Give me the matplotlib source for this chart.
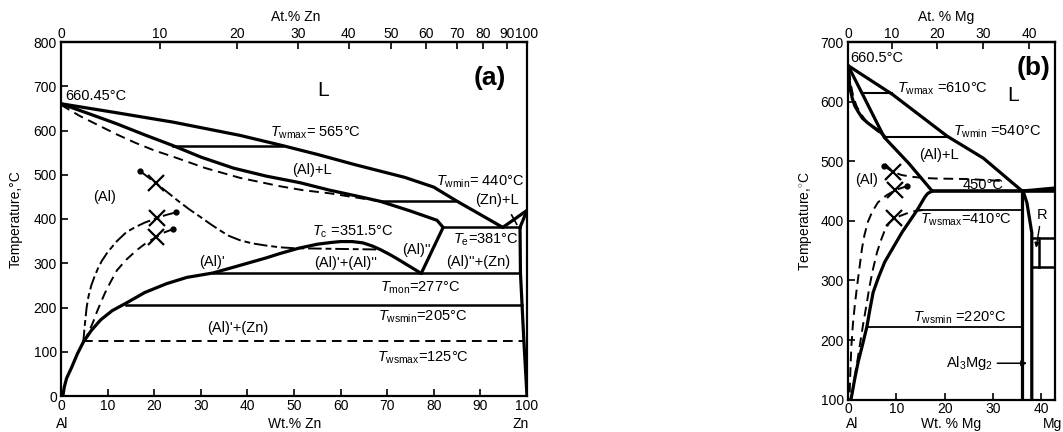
import numpy as np
import matplotlib.pyplot as plt

plt.rcParams['font.family'] = ['Liberation Sans', 'DejaVu Sans']
plt.rcParams['mathtext.fontset'] = 'custom'
plt.rcParams['mathtext.rm'] = 'Liberation Sans'
plt.rcParams['mathtext.it'] = 'Liberation Sans:italic'

# ---------- (a) Al-Zn ----------
azn_top_ticks = [0, 10, 20, 30, 40, 50, 60, 70, 80, 90, 100]
azn_bot_ticks = [0, 10, 20, 30, 40, 50, 60, 70, 80, 90, 100]
azn_y_ticks = [0, 100, 200, 300, 400, 500, 600, 700, 800]

zn_liq_w = [0, 12, 24, 38.4, 47.5, 55, 63, 73.8, 80, 85, 90, 94.8]
zn_liq_t = [660.45, 640, 619, 589, 566, 546, 523, 494, 472, 440, 410, 381]
zn_sol_w = [0, 6, 12, 18, 24, 30, 37, 44, 51.3, 57.7, 63, 68.5, 75, 80.7, 82]
zn_sol_t = [660.45, 638, 615, 590, 566, 540, 515, 497, 482, 465, 453, 440, 418, 397, 381]
zn_meta_w = [0, 4, 8, 12, 16, 20, 24, 31, 38.4, 47, 52, 57.7, 63, 68.5]
zn_meta_t = [658, 633, 612, 591, 572, 555, 541, 515, 493, 474, 465, 458, 449, 440]
zn_solv_w = [0.4, 0.7, 1.2, 2.3, 3.5, 4.8, 6.5, 8.5, 11, 14, 18, 22.7, 27, 32.6, 37, 41,
             44, 47, 51, 55, 58, 60, 62.5, 64.8, 66.8, 68.5, 70.5, 72, 74.5, 77.3]
zn_solv_t = [0, 20, 40, 65, 95, 122, 148, 172, 193, 210, 234, 254, 268, 278, 291, 303,
             312, 322, 334, 343, 347, 349, 349, 346, 339, 331, 320, 311, 295, 277]
zn_alpp_w = [82, 77.3]
zn_alpp_t = [381, 277]
zn_znliq_w = [94.8, 100]
zn_znliq_t = [381, 419.5]
zn_znsol_w = [100, 98.5]
zn_znsol_t = [419.5, 381]
zn_znsolv_w = [98.5, 98.6, 99.3, 100]
zn_znsolv_t = [381, 277, 130, 0]

# horizontal lines (wt from, wt to, T)
zn_twmax = (24, 47.5, 565)
zn_twmin = (68.5, 85, 440)
zn_te = (82, 98.5, 381)
zn_tmon = (32.6, 98.6, 277)
zn_twsmin = (14, 99.0, 205)
zn_twsmax = (4.8, 99.3, 124)

# experimental curves (first point = dot end)
zn_c1_w = [17, 20.4, 23, 25, 27.5, 30, 32, 34, 36, 38.4, 41, 44, 47, 50, 56, 62, 68.5]
zn_c1_t = [508, 481, 459, 442, 422, 404, 389, 375, 362, 352, 345, 340, 336, 334, 333, 332, 331]
zn_c2_w = [24.7, 22.5, 20.6, 18, 16, 14, 12, 10, 8.8, 8, 7.2, 6.5, 5.9, 5.5, 5.1, 4.8]
zn_c2_t = [415, 409, 402, 392, 382, 370, 350, 325, 306, 290, 270, 250, 225, 200, 160, 124]
zn_c3_w = [24, 22, 20.4, 18.3, 16.3, 14, 12, 10.5, 9.4, 8.5, 7.7, 7, 6.2, 5.5, 4.8]
zn_c3_t = [377, 369, 359, 346, 330, 308, 284, 255, 232, 210, 190, 170, 150, 135, 124]
zn_x_w = [20.4, 20.6, 20.4]
zn_x_t = [481, 402, 359]

# ---------- (b) Al-Mg ----------
bmg_top_ticks = [0, 10, 20, 30, 40]
bmg_bot_ticks = [0, 10, 20, 30, 40]
bmg_y_ticks = [100, 200, 300, 400, 500, 600, 700]

mg_liq_w = [0, 9.2, 20.5, 28, 36]
mg_liq_t = [660.5, 612, 542, 505, 450]
mg_sol_w = [0, 2.9, 7.5, 12.5, 17.4]
mg_sol_t = [660.5, 614, 540, 497, 450]
mg_curv_w = [0, 0.2, 0.4, 0.9, 1.4, 2.1, 3.0, 4.1, 5.3, 6.6, 7.6]
mg_curv_t = [660.5, 640, 623, 605, 593, 583, 572, 564, 557, 550, 541]
mg_meta_w = [0.2, 0.6, 1.1, 1.8, 2.6, 3.6, 4.8, 6.0, 7.2]
mg_meta_t = [652, 628, 608, 592, 580, 569, 559, 551, 544]
mg_solv_w = [17.4, 16.5, 15.9, 14.3, 12.8, 11.2, 9.4, 7.6, 6.3, 5.2, 4.5, 3.9, 3.0, 2.1, 1.4, 0.8, 0.6]
mg_solv_t = [450, 446, 440, 418, 400, 381, 356, 331, 305, 280, 250, 222, 192, 163, 135, 108, 100]
mg_mgliq_w = [36, 42.8]
mg_mgliq_t = [450, 455]
mg_phase_l_w = [36, 36]
mg_phase_l_t = [450, 100]
mg_phase_r_w = [36.2, 37.0, 37.6, 38.0, 38.0]
mg_phase_r_t = [450, 430, 400, 380, 100]

mg_twmax = (2.9, 9.2, 614)
mg_twmin = (7.5, 20.6, 540)
mg_te = (17.4, 42.8, 450)
mg_twsmax = (14.6, 36, 418)
mg_twsmin = (3.9, 36, 222)
mg_r_top = (38, 42.8, 371)
mg_r_bot = (38, 42.8, 322)
mg_r_mid_w = 39.5

mg_a_w = [7.4, 9.3, 11, 13, 15.5, 18, 25, 31.5]
mg_a_t = [492, 482, 477, 474, 472, 471, 470, 467]
mg_b_w = [12.2, 11, 9.7, 8, 6.2, 5, 4.1, 3.4, 2.9, 2.4, 1.9, 1.4, 1.0, 0.7, 0.5, 0.3]
mg_b_t = [458, 455, 451, 443, 431, 415, 398, 376, 354, 323, 292, 258, 225, 190, 150, 100]
mg_c_w = [15.5, 13.5, 12, 10.7, 9.5, 8.5, 7.6, 6.8, 6.0, 5.2, 4.5, 3.8, 3.1, 2.5, 1.9, 1.3, 0.8, 0.6]
mg_c_t = [418, 416, 412, 408, 404, 396, 384, 367, 347, 320, 292, 258, 225, 194, 163, 135, 108, 100]
mg_x_w = [9.3, 9.7, 9.5]
mg_x_t = [482, 451, 404]

W, H = 1063, 432
fig = plt.figure(figsize=(W / 100, H / 100), dpi=100)
fig.patch.set_facecolor('white')

def frac(x0, y0, x1, y1):
    return [x0 / W, 1 - y1 / H, (x1 - x0) / W, (y1 - y0) / H]

axa = fig.add_axes(frac(61, 42, 527, 396))
axb = fig.add_axes(frac(848, 42, 1055, 399.6))

THICK = 2.3
TIE = 1.8
DASH = 1.4
DD = (0, (7, 2, 3, 2))
DS = (0, (5, 3))


def hline(ax, h, lw=TIE, ls='-'):
    ax.plot([h[0], h[1]], [h[2], h[2]], color='black', lw=lw, ls=ls)


# ----- draw (a) -----
ax = axa
for w, t in [(zn_liq_w, zn_liq_t), (zn_sol_w, zn_sol_t), (zn_solv_w, zn_solv_t),
             (zn_alpp_w, zn_alpp_t), (zn_znliq_w, zn_znliq_t), (zn_znsol_w, zn_znsol_t),
             (zn_znsolv_w, zn_znsolv_t)]:
    ax.plot(w, t, color='black', lw=THICK, solid_capstyle='round', solid_joinstyle='round')
ax.plot(zn_meta_w, zn_meta_t, color='black', lw=DASH, ls=DS)
for h in [zn_twmax, zn_twmin, zn_te, zn_tmon, zn_twsmin]:
    hline(ax, h)
hline(ax, zn_twsmax, lw=DASH, ls=DS)
ax.plot(zn_c1_w, zn_c1_t, color='black', lw=DASH, ls=DD)
ax.plot(zn_c2_w, zn_c2_t, color='black', lw=DASH, ls=DD)
ax.plot(zn_c3_w, zn_c3_t, color='black', lw=DASH, ls=DS)
ax.plot([zn_c1_w[0], zn_c2_w[0], zn_c3_w[0]], [zn_c1_t[0], zn_c2_t[0], zn_c3_t[0]],
        'o', color='black', ms=3.5)
ax.plot(zn_x_w, zn_x_t, 'x', color='black', ms=11, mew=1.6)
ax.plot([96.7, 97.8], [409, 388], color='black', lw=1.2)

ax.set_xlim(0, 100)
ax.set_ylim(0, 800)
ax.set_xticks(azn_bot_ticks)
ax.set_yticks(azn_y_ticks)

fs = 10.5
ax.text(0.9, 679, '660.45°C', fontsize=fs, ha='left', va='center')
ax.text(56.2, 691, 'L', fontsize=15, ha='center', va='center')
ax.text(92, 718, '(a)', fontsize=19, fontweight='bold', ha='center', va='center')
ax.text(44.8, 594, r'$T_{\mathrm{wmax}}$= 565°C', fontsize=fs, ha='left', va='center')
ax.text(53.9, 510, '(Al)+L', fontsize=fs, ha='center', va='center')
ax.text(80.5, 483, r'$T_{\mathrm{wmin}}$= 440°C', fontsize=fs, ha='left', va='center')
ax.text(93.6, 442, '(Zn)+L', fontsize=fs, ha='center', va='center')
ax.text(9.4, 449, '(Al)', fontsize=fs, ha='center', va='center')
ax.text(53.9, 370, r'$T_{\mathrm{c}}$ =351.5°C', fontsize=fs, ha='left', va='center')
ax.text(32.4, 302, "(Al)'", fontsize=fs, ha='center', va='center')
ax.text(61, 300, "(Al)'+(Al)''", fontsize=fs, ha='center', va='center')
ax.text(76.2, 330, "(Al)''", fontsize=fs, ha='center', va='center')
ax.text(84.1, 352, r'$T_{\mathrm{e}}$=381°C', fontsize=fs, ha='left', va='center')
ax.text(89.5, 302, "(Al)''+(Zn)", fontsize=fs, ha='center', va='center')
ax.text(68.5, 244, r'$T_{\mathrm{mon}}$=277°C', fontsize=fs, ha='left', va='center')
ax.text(68, 178, r'$T_{\mathrm{wsmin}}$=205°C', fontsize=fs, ha='left', va='center')
ax.text(38, 153, "(Al)'+(Zn)", fontsize=fs, ha='center', va='center')
ax.text(67.8, 86, r'$T_{\mathrm{wsmax}}$=125°C', fontsize=fs, ha='left', va='center')


def w2a_zn(w):
    w = np.clip(np.asarray(w, dtype=float), 0, 100)
    a = w / 65.38
    b = (100 - w) / 26.98
    return 100 * a / (a + b)


def a2w_zn(a):
    a = np.clip(np.asarray(a, dtype=float), 0, 100)
    m = a * 65.38
    n = (100 - a) * 26.98
    return 100 * m / (m + n)


def w2a_mg(w):
    w = np.clip(np.asarray(w, dtype=float), 0, 100)
    a = w / 24.305
    b = (100 - w) / 26.98
    return 100 * a / (a + b)


def a2w_mg(a):
    a = np.clip(np.asarray(a, dtype=float), 0, 100)
    m = a * 24.305
    n = (100 - a) * 26.98
    return 100 * m / (m + n)


secA = axa.secondary_xaxis('top', functions=(w2a_zn, a2w_zn))
secA.set_xticks(azn_top_ticks)

# ----- draw (b) -----
ax = axb
for w, t in [(mg_liq_w, mg_liq_t), (mg_sol_w, mg_sol_t), (mg_curv_w, mg_curv_t),
             (mg_solv_w, mg_solv_t), (mg_mgliq_w, mg_mgliq_t),
             (mg_phase_l_w, mg_phase_l_t), (mg_phase_r_w, mg_phase_r_t)]:
    ax.plot(w, t, color='black', lw=THICK, solid_capstyle='round', solid_joinstyle='round')
ax.plot(mg_meta_w, mg_meta_t, color='black', lw=DASH, ls=DS)
hline(ax, mg_twmax, lw=1.5)
hline(ax, mg_twmin, lw=1.5)
hline(ax, mg_te, lw=THICK + 0.3)
hline(ax, mg_twsmax, lw=1.3)
hline(ax, mg_twsmin, lw=1.3)
hline(ax, mg_r_top, lw=1.8)
hline(ax, mg_r_bot, lw=1.8)
ax.plot([mg_r_mid_w, mg_r_mid_w], [mg_r_bot[2], mg_r_top[2]], color='black', lw=1.8)
ax.plot(mg_a_w, mg_a_t, color='black', lw=DASH, ls=DS)
ax.plot(mg_b_w, mg_b_t, color='black', lw=DASH, ls=DS)
ax.plot(mg_c_w, mg_c_t, color='black', lw=DASH, ls=DS)
ax.plot([mg_a_w[0], mg_b_w[0]], [mg_a_t[0], mg_b_t[0]], 'o', color='black', ms=3.5)
ax.plot(mg_x_w, mg_x_t, 'x', color='black', ms=11, mew=1.6)
ax.annotate('', xy=(37.6, 161), xytext=(30.3, 161),
            arrowprops=dict(arrowstyle='-|>', lw=1.1, color='black', mutation_scale=8))
ax.annotate('', xy=(38.8, 350), xytext=(39.7, 395),
            arrowprops=dict(arrowstyle='-|>', lw=1.0, color='black', mutation_scale=7))

ax.set_xlim(0, 42.8)
ax.set_ylim(100, 700)
ax.set_xticks(bmg_bot_ticks)
ax.set_yticks(bmg_y_ticks)

ax.text(0.4, 673, '660.5°C', fontsize=fs, ha='left', va='center')
ax.text(38.3, 656, '(b)', fontsize=19, fontweight='bold', ha='center', va='center')
ax.text(10.1, 621, r'$T_{\mathrm{wmax}}$ =610°C', fontsize=fs, ha='left', va='center')
ax.text(34.1, 611, 'L', fontsize=15, ha='center', va='center')
ax.text(21.7, 549, r'$T_{\mathrm{wmin}}$ =540°C', fontsize=fs, ha='left', va='center')
ax.text(18.8, 510, '(Al)+L', fontsize=fs, ha='center', va='center')
ax.text(3.9, 468, '(Al)', fontsize=fs, ha='center', va='center')
ax.text(23.6, 460, '450°C', fontsize=fs, ha='left', va='center')
ax.text(14.9, 401, r'$T_{\mathrm{wsmax}}$=410°C', fontsize=fs, ha='left', va='center')
ax.text(40.1, 409, 'R', fontsize=fs, ha='center', va='center')
ax.text(13.4, 237, r'$T_{\mathrm{wsmin}}$ =220°C', fontsize=fs, ha='left', va='center')
ax.text(25.2, 161, r'Al$_3$Mg$_2$', fontsize=fs, ha='center', va='center')

secB = axb.secondary_xaxis('top', functions=(w2a_mg, a2w_mg))
secB.set_xticks(bmg_top_ticks)

# ----- axes styling -----
for ax in [axa, axb]:
    for s in ax.spines.values():
        s.set_linewidth(1.6)
    ax.tick_params(direction='in', length=5, width=1.2, labelsize=10, pad=2,
                   top=False, right=False)
    ax.tick_params(axis='y', pad=3)
for sec in [secA, secB]:
    sec.tick_params(direction='in', length=5, width=1.2, labelsize=10, pad=1)
    sec.spines['top'].set_linewidth(1.6)


def ftext(x, y, s, **kw):
    fig.text(x / W, 1 - y / H, s, fontsize=10, ha='center', va='center', **kw)


ftext(296, 17, 'At.% Zn')
ftext(62, 424, 'Al')
ftext(295, 424, 'Wt.% Zn')
ftext(521, 424, 'Zn')
ftext(16, 219, 'Temperature,°C', rotation=90)

ftext(946, 17, 'At. % Mg')
ftext(852, 424, 'Al')
ftext(951, 424, 'Wt. % Mg')
ftext(1053, 424, 'Mg')
ftext(806, 221, r'Temperature,$^{\circ}$C', rotation=90)

fig.savefig('out.png', dpi=100, facecolor='white')
